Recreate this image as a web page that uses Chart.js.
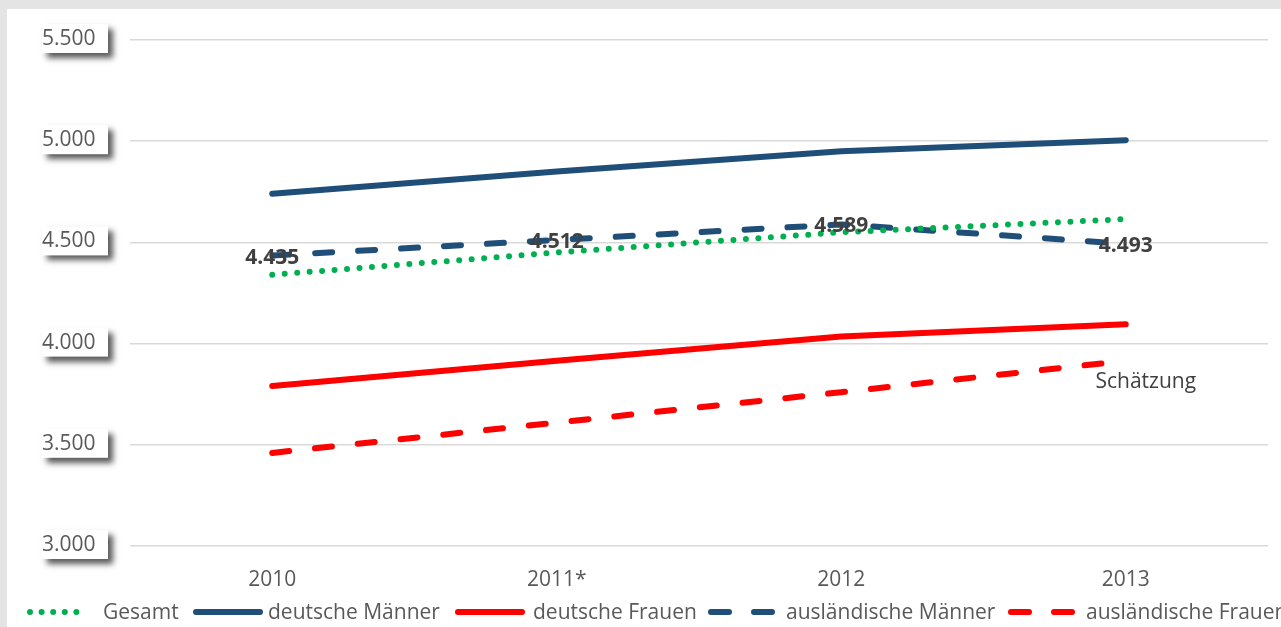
<!DOCTYPE html>
<html>
<head>
<meta charset="utf-8">
<script src="https://cdn.jsdelivr.net/npm/chart.js@4"></script>
<style>
    html, body { margin: 0; padding: 0; background: #e4e4e4; overflow: hidden; }
    #panel { position: absolute; left: 7px; top: 9px; width: 1300px; height: 640px; background: #ffffff; }
</style>
</head>
<body>
<div id="panel"><canvas id="chart" width="1300" height="640"></canvas></div>
<script>
// Data
const years = ['2010', '2011*', '2012', '2013'];
const gesamt = [4340, 4450, 4550, 4615];
const deutscheMaenner = [4740, 4850, 4950, 5005];
const deutscheFrauen = [3790, 3915, 4035, 4095];
const auslMaenner = [4435, 4512, 4589, 4493];
const auslFrauen = [3460, 3610, 3760, 3915];
const yTicks = [3000, 3500, 4000, 4500, 5000, 5500];

// Colors
const colors = {
    navy: '#1f4e79',
    red: '#ff0000',
    green: '#00b050',
    text: '#595959',
    label: '#404040',
    grid: '#d9d9d9'
};

const FONT = '"Open Sans", "Noto Sans", sans-serif';

// Legend layout (canvas x): sample start, sample width, text start
const legendSlots = [
    { x: 20, w: 64, tx: 96 },
    { x: 186, w: 70, tx: 261 },
    { x: 448, w: 70, tx: 526 },
    { x: 701, w: 67, tx: 779 },
    { x: 1001, w: 67, tx: 1079 }
];

// German number format
function formatDe(num) {
    return num.toString().replace(/\B(?=(\d{3})+(?!\d))/g, '.');
}

// Y tick boxes with shadow
const tickBoxes = {
    id: 'tickBoxes',
    afterDraw(chart) {
        const ctx = chart.ctx;
        const y = chart.scales.y;
        ctx.save();
        ctx.font = '21px ' + FONT;
        ctx.textBaseline = 'middle';
        yTicks.forEach(v => {
            const py = y.getPixelForValue(v);
            ctx.save();
            ctx.shadowColor = 'rgba(0, 0, 0, 0.65)';
            ctx.shadowOffsetX = 5;
            ctx.shadowOffsetY = 5;
            ctx.shadowBlur = 6;
            ctx.fillStyle = '#ffffff';
            ctx.fillRect(35, py - 16, 66, 29);
            ctx.restore();
            ctx.fillStyle = colors.text;
            ctx.textAlign = 'left';
            ctx.fillText(formatDe(v), 35, py - 1);
        });
        ctx.restore();
    }
};

// Data labels + annotation + legend
const extras = {
    id: 'extras',
    afterDraw(chart) {
        const ctx = chart.ctx;
        ctx.save();

        // Data labels for ausländische Männer
        const meta = chart.getDatasetMeta(3);
        ctx.font = 'bold 21px ' + FONT;
        ctx.fillStyle = colors.label;
        ctx.textAlign = 'center';
        ctx.textBaseline = 'middle';
        meta.data.forEach((pt, i) => {
            ctx.fillText(formatDe(auslMaenner[i]), pt.x, pt.y + 2);
        });

        // Schätzung
        const last = chart.getDatasetMeta(4).data[3];
        ctx.font = '21px ' + FONT;
        ctx.fillText('Schätzung', last.x + 20, last.y + 21);

        // Legend
        const ly = 603;
        ctx.textAlign = 'left';
        ctx.fillStyle = colors.text;
        chart.data.datasets.forEach((ds, i) => {
            const slot = legendSlots[i];
            ctx.save();
            ctx.strokeStyle = ds.borderColor;
            ctx.lineWidth = 6;
            ctx.lineCap = 'round';
            ctx.setLineDash(ds.legendDash);
            ctx.beginPath();
            ctx.moveTo(slot.x + 3, ly);
            ctx.lineTo(slot.x + slot.w - 3, ly);
            ctx.stroke();
            ctx.restore();
            ctx.fillText(ds.label, slot.tx, ly + 1);
        });
        ctx.restore();
    }
};

function lineSet(label, data, color, dash, legendDash) {
    return {
        label: label,
        data: data,
        borderColor: color,
        backgroundColor: color,
        borderWidth: 6,
        borderDash: dash,
        borderCapStyle: 'round',
        pointRadius: 0,
        tension: 0,
        fill: false,
        legendDash: legendDash
    };
}

const chart = new Chart(document.getElementById('chart').getContext('2d'), {
    type: 'line',
    data: {
        labels: years,
        datasets: [
            lineSet('Gesamt', gesamt, colors.green, [0, 12.5], [0, 11.6]),
            lineSet('deutsche Männer', deutscheMaenner, colors.navy, [], []),
            lineSet('deutsche Frauen', deutscheFrauen, colors.red, [], []),
            lineSet('ausländische Männer', auslMaenner, colors.navy, [17, 26], [18, 25]),
            lineSet('ausländische Frauen', auslFrauen, colors.red, [17, 26], [18, 25])
        ]
    },
    options: {
        responsive: false,
        animation: false,
        devicePixelRatio: 1,
        layout: {
            padding: { top: 31, right: 39, bottom: 43, left: 0 }
        },
        plugins: {
            legend: { display: false },
            tooltip: { enabled: false }
        },
        scales: {
            y: {
                min: 3000,
                max: 5500,
                ticks: { stepSize: 500, display: false },
                grid: { color: colors.grid, lineWidth: 1.5, drawTicks: false },
                border: { display: false },
                afterFit(scale) { scale.width = 123; }
            },
            x: {
                offset: true,
                grid: { display: false, drawTicks: false },
                border: { display: false },
                ticks: {
                    padding: 21,
                    color: colors.text,
                    font: { size: 21, family: FONT }
                },
                afterFit(scale) { scale.height = 60; }
            }
        }
    },
    plugins: [tickBoxes, extras]
});
</script>
</body>
</html>
